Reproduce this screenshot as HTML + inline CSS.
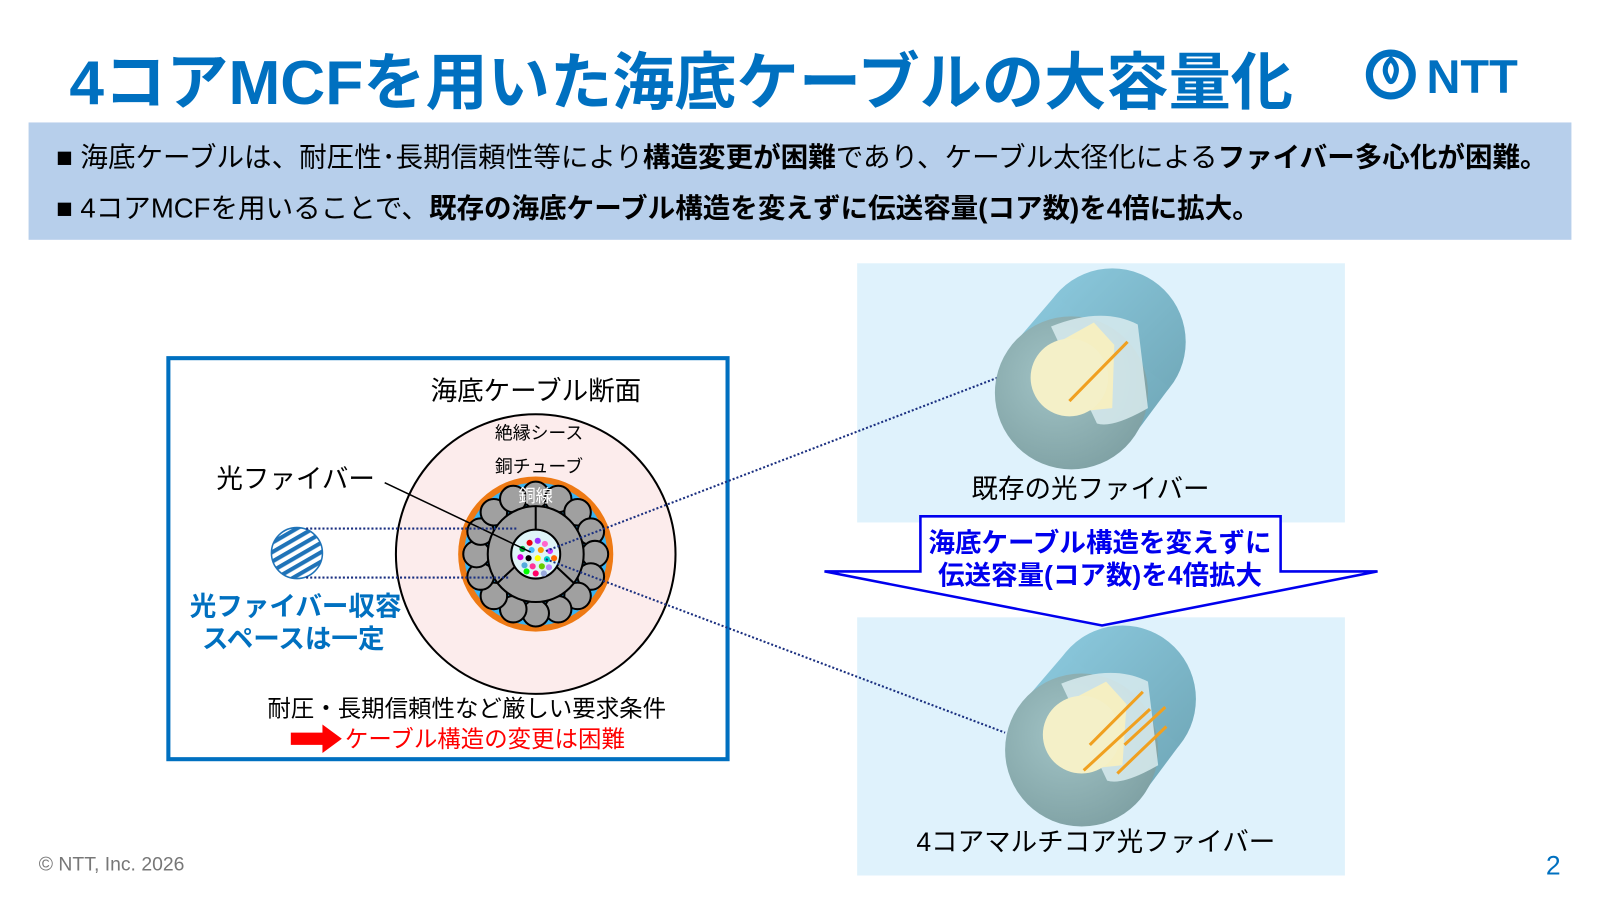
<!DOCTYPE html>
<html><head><meta charset="utf-8"><style>
html,body{margin:0;padding:0;background:#fff;}
body{width:1600px;height:900px;overflow:hidden;}
svg text{font-family:"Liberation Sans","Noto Sans CJK JP",sans-serif;}
</style></head><body>
<svg width="1600" height="900" viewBox="0 0 1568 882" preserveAspectRatio="none" xmlns="http://www.w3.org/2000/svg">
<defs>
<pattern id="hatch" width="8" height="8" patternUnits="userSpaceOnUse" patternTransform="rotate(-30)">
<rect width="8" height="8" fill="#fff"/><rect width="8" height="4" fill="#1f73b8"/></pattern>
<linearGradient id="tubeG" x1="0" y1="0" x2="1" y2="1"><stop offset="0" stop-color="#8ccadf"/><stop offset="1" stop-color="#6fa6b6"/></linearGradient>
<radialGradient id="frontG" cx="0.4" cy="0.4" r="0.75"><stop offset="0" stop-color="#a2c4c6"/><stop offset="1" stop-color="#7a9c9f"/></radialGradient>
</defs>
<text x="68" y="102" font-size="61" font-weight="bold" fill="#0070c0">4コアMCFを用いた海底ケーブルの大容量化</text>
<circle cx="1363" cy="73" r="21" fill="none" stroke="#0070c0" stroke-width="7"/>
<path d="M1363 58 q-7 6 -5 14 q3 8 5 8 q3 0 5 -8 q2 -8 -5 -14z" fill="none" stroke="#0070c0" stroke-width="5"/>
<text x="1398" y="91" font-size="46" font-weight="bold" fill="#0070c0">NTT</text>
<rect x="28" y="120" width="1512" height="115" fill="#b7cfeb"/>
<text x="55" y="163" font-size="27" fill="#000">■ 海底ケーブルは、耐圧性･長期信頼性等により<tspan font-weight="bold">構造変更が困難</tspan>であり、ケーブル太径化による<tspan font-weight="bold">ファイバー多心化が困難。</tspan></text>
<text x="55" y="213" font-size="27" fill="#000">■ 4コアMCFを用いることで、<tspan font-weight="bold">既存の海底ケーブル構造を変えずに伝送容量(コア数)を4倍に拡大。</tspan></text>
<rect x="165" y="351" width="548" height="393" fill="#fff" stroke="#0070c0" stroke-width="4"/>
<text x="422" y="392" font-size="26" fill="#000">海底ケーブル断面</text>
<circle cx="525" cy="543" r="137" fill="#fcecec" stroke="#000" stroke-width="2"/>
<text x="485" y="430" font-size="17.5">絶縁シース</text>
<text x="485" y="463" font-size="17.5">銅チューブ</text>
<circle cx="525" cy="543" r="76" fill="#ee7a14"/>
<circle cx="525" cy="543" r="70" fill="#3bb3f0"/>
<g fill="#a0a0a0" stroke="#000" stroke-width="2">
<circle cx="525" cy="485" r="13"/><circle cx="547" cy="489" r="13"/><circle cx="566" cy="502" r="13"/><circle cx="579" cy="521" r="13"/><circle cx="583" cy="543" r="13"/><circle cx="579" cy="565" r="13"/><circle cx="566" cy="584" r="13"/><circle cx="547" cy="597" r="13"/><circle cx="525" cy="601" r="13"/><circle cx="503" cy="597" r="13"/><circle cx="484" cy="584" r="13"/><circle cx="471" cy="565" r="13"/><circle cx="467" cy="543" r="13"/><circle cx="471" cy="521" r="13"/><circle cx="484" cy="502" r="13"/><circle cx="503" cy="489" r="13"/>
<circle cx="525" cy="543" r="47"/>
</g>
<g stroke="#000" stroke-width="2"><line x1="525" y1="496" x2="525" y2="520"/><line x1="545" y1="555" x2="563" y2="572"/><line x1="505" y1="555" x2="487" y2="572"/></g>
<text x="508" y="492" font-size="17" fill="#fff">銅線</text>
<circle cx="525" cy="543" r="24" fill="#dff4f8" stroke="#000" stroke-width="2"/>
<g>
<circle cx="519" cy="532" r="3" fill="#e01"/><circle cx="527" cy="530" r="3" fill="#93f"/><circle cx="534" cy="533" r="3" fill="#f6c"/><circle cx="512" cy="538" r="3" fill="#0a3"/><circle cx="521" cy="539" r="3" fill="#4bf"/><circle cx="530" cy="539" r="3" fill="#f90"/><circle cx="539" cy="540" r="3" fill="#c3f"/><circle cx="510" cy="546" r="3" fill="#d0d"/><circle cx="518" cy="547" r="3" fill="#000"/><circle cx="527" cy="547" r="3" fill="#ff0"/><circle cx="536" cy="548" r="3" fill="#0cc"/><circle cx="543" cy="547" r="3" fill="#f60"/><circle cx="514" cy="554" r="3" fill="#5ad"/><circle cx="522" cy="555" r="3" fill="#f39"/><circle cx="531" cy="555" r="3" fill="#6c0"/><circle cx="538" cy="556" r="3" fill="#b8f"/><circle cx="525" cy="562" r="3" fill="#f06"/><circle cx="516" cy="560" r="3" fill="#0f0"/><circle cx="533" cy="562" r="3" fill="#9ad"/>
</g>
<text x="212" y="478" font-size="26">光ファイバー</text>
<line x1="377" y1="473" x2="520" y2="541" stroke="#000" stroke-width="1.5"/>
<circle cx="291" cy="542" r="25" fill="url(#hatch)" stroke="#1f73b8" stroke-width="1.5"/>
<text x="186" y="603" font-size="26" font-weight="bold" fill="#0070c0">光ファイバー収容</text>
<text x="198" y="635" font-size="26" font-weight="bold" fill="#0070c0">スペースは一定</text>
<text x="262" y="702" font-size="23">耐圧・長期信頼性など厳しい要求条件</text>
<polygon points="285,718 316,718 316,710 335,724 316,738 316,730 285,730" fill="#f00"/>
<text x="338" y="732" font-size="23" fill="#f00">ケーブル構造の変更は困難</text>
<rect x="840" y="258" width="478" height="254" fill="#dff2fc"/>
<rect x="840" y="605" width="478" height="253" fill="#dff2fc"/>
<g stroke="#1a2f80" stroke-width="2" stroke-dasharray="2,2">
<line x1="300" y1="518" x2="508" y2="518"/><line x1="300" y1="566" x2="500" y2="566"/>
<line x1="535" y1="540" x2="978" y2="370"/><line x1="535" y1="548" x2="985" y2="718"/>
</g>
<!-- top fiber -->
<g>
<circle cx="1090" cy="335" r="72" fill="url(#tubeG)"/>
<polygon points="992,339 1034,290 1146,380 1108,431" fill="url(#tubeG)"/>
<circle cx="1050" cy="385" r="75" fill="url(#frontG)"/>
<path d="M1030 320 Q1080 300 1115 318 L1125 400 Q1090 420 1075 415 Z" fill="#d8ebee" opacity="0.85"/>
<polygon points="1020,345 1072,316 1092,338 1090,400 1040,405" fill="#f5efc2"/>
<circle cx="1048" cy="370" r="38" fill="#f4f0c8"/>
<line x1="1048" y1="393" x2="1105" y2="335" stroke="#f0a020" stroke-width="3"/>
</g>
<text x="952" y="488" font-size="26">既存の光ファイバー</text>
<!-- bottom fiber -->
<g>
<circle cx="1100" cy="685" r="72" fill="url(#tubeG)"/>
<polygon points="1002,689 1044,640 1156,730 1118,781" fill="url(#tubeG)"/>
<circle cx="1060" cy="735" r="75" fill="url(#frontG)"/>
<path d="M1040 670 Q1090 650 1125 668 L1135 750 Q1100 770 1085 765 Z" fill="#d8ebee" opacity="0.85"/>
<polygon points="1032,695 1084,668 1104,690 1100,750 1050,755" fill="#f5efc2"/>
<circle cx="1060" cy="720" r="38" fill="#f4f0c8"/>
<g stroke="#f0a020" stroke-width="3"><line x1="1068" y1="730" x2="1120" y2="678"/><line x1="1062" y1="755" x2="1127" y2="695"/><line x1="1102" y1="730" x2="1142" y2="693"/><line x1="1095" y1="758" x2="1143" y2="712"/></g>
</g>
<text x="898" y="834" font-size="26">4コアマルチコア光ファイバー</text>
<polygon points="902,506 1255,506 1255,560 1350,560 1080,613 808,560 902,560" fill="#fff" stroke="#0000ee" stroke-width="2.5"/>
<text x="1078" y="541" font-size="26" font-weight="bold" fill="#0000ee" text-anchor="middle">海底ケーブル構造を変えずに</text>
<text x="1078" y="573" font-size="26" font-weight="bold" fill="#0000ee" text-anchor="middle">伝送容量(コア数)を4倍拡大</text>
<text x="38" y="853" font-size="19" fill="#777">© NTT, Inc.  2026</text>
<text x="1515" y="857" font-size="26" fill="#0070c0">2</text>
</svg>
</body></html>
